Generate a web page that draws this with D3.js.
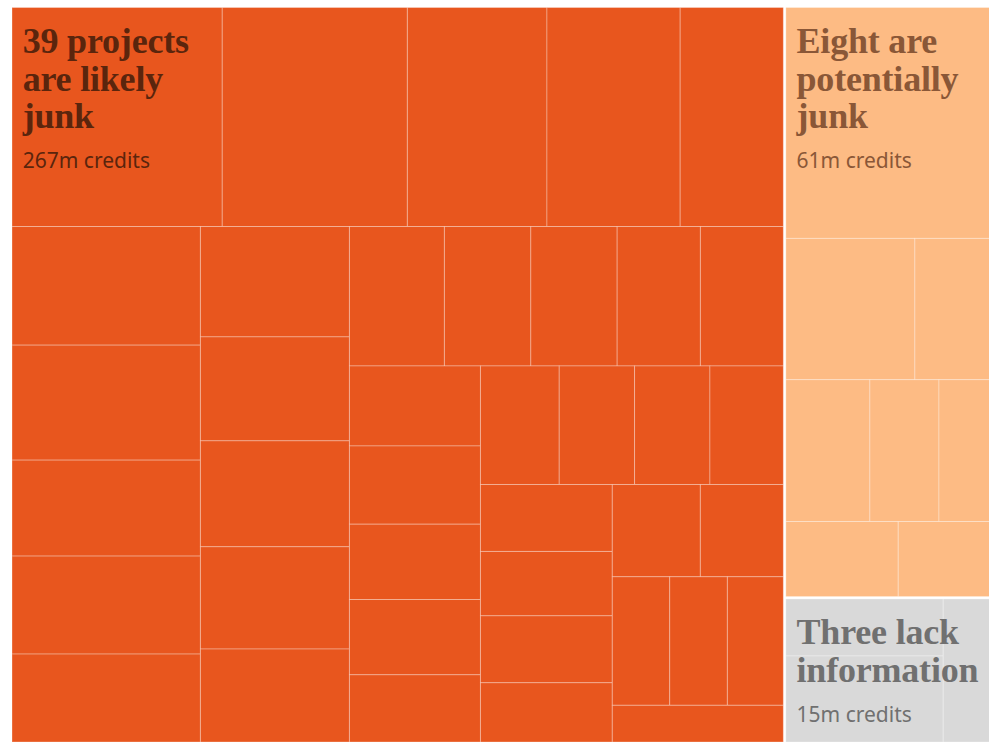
<!DOCTYPE html>
<html>
<head>
<meta charset="utf-8">
<script src="https://cdn.jsdelivr.net/npm/d3@7/dist/d3.min.js"></script>
<style>
  body { margin: 0; background: #fff; }
  svg { display: block; }
</style>
</head>
<body>
<svg id="chart" width="989" height="742"></svg>
<script>
// Groups of rainforest offset projects, with credits per project (millions)
const groupKeys = ["likely", "potentially", "lacking"];
const groupTitles = [
  ["39 projects", "are likely", "junk"],
  ["Eight are", "potentially", "junk"],
  ["Three lack", "information"]
];
const groupCredits = ["267m credits", "61m credits", "15m credits"];
const groupColors = ["#e8561e", "#fdbb84", "#d9d9d9"];
const titleColors = ["#5a250d", "#8a5737", "#707070"];

const likelyJunk = [
  21.70, 19.11, 14.41, 13.75, 10.65,
  10.53, 10.21, 8.52, 8.70, 7.81,
  7.75, 7.30, 7.44, 7.18, 6.53,
  6.24, 5.68, 5.67, 5.47, 5.45,
  4.94, 4.83, 4.65, 4.65, 4.15,
  4.40, 4.21, 4.21, 4.10,
  4.16, 4.00, 4.16, 3.68,
  3.83, 3.61,
  3.48, 3.49, 3.39,
  2.96
];
const potentiallyJunk = [23.91, 8.67, 5.96, 5.67, 4.66, 4.36, 4.01, 3.76];
const lackInformation = [4.32, 6.52, 4.16];

const groupValues = [likelyJunk, potentiallyJunk, lackInformation];

// Layout box; the tiles are computed in this space and mapped onto the page
const layoutW = 991.6, layoutH = 775;
const x = d3.scaleLinear().domain([0, layoutW]).range([12, 1003.6]);
const y = d3.scaleLinear().domain([0, layoutH]).range([7.5, 742]);

const tree = {
  name: "all",
  children: groupKeys.map((k, i) => ({
    name: k,
    index: i,
    children: groupValues[i].map((v, j) => ({ name: k + "-" + j, value: v }))
  }))
};

const root = d3.hierarchy(tree).sum(d => d.value || 0);

d3.treemap()
  .tile(d3.treemapSquarify)
  .size([layoutW, layoutH])
  .paddingInner(d => d.depth === 0 ? 2.5 : 0)
  (root);

const svg = d3.select("#chart");

const groups = svg.selectAll("g.group")
  .data(root.children)
  .join("g")
  .attr("class", "group");

groups.selectAll("rect")
  .data(d => d.leaves())
  .join("rect")
  .attr("x", d => x(d.x0))
  .attr("y", d => y(d.y0))
  .attr("width", d => x(d.x1) - x(d.x0))
  .attr("height", d => y(d.y1) - y(d.y0))
  .attr("fill", d => groupColors[d.parent.data.index])
  .attr("stroke", "rgba(255,255,255,0.3)")
  .attr("stroke-width", 1);

// Group labels: headline plus credit total
const lineGap = 37.6;
groups.each(function (g) {
  const i = g.data.index;
  const gx = x(g.x0) + 10.7;
  const gy = y(g.y0) + 45.5;
  const sel = d3.select(this);
  const title = sel.append("text")
    .attr("x", gx)
    .attr("y", gy)
    .attr("fill", titleColors[i])
    .style("font-family", "'Liberation Serif', 'DejaVu Serif', serif")
    .style("font-weight", "bold")
    .style("font-size", "36px")
    .style("letter-spacing", "-0.2px");
  groupTitles[i].forEach((line, k) => {
    title.append("tspan")
      .attr("x", gx)
      .attr("y", gy + k * lineGap)
      .text(line);
  });
  sel.append("text")
    .attr("x", gx)
    .attr("y", gy + (groupTitles[i].length - 1) * lineGap + 39.5)
    .attr("fill", titleColors[i])
    .style("font-family", "'Noto Sans', sans-serif")
    .style("font-size", "21px")
    .text(groupCredits[i]);
});
</script>
</body>
</html>
